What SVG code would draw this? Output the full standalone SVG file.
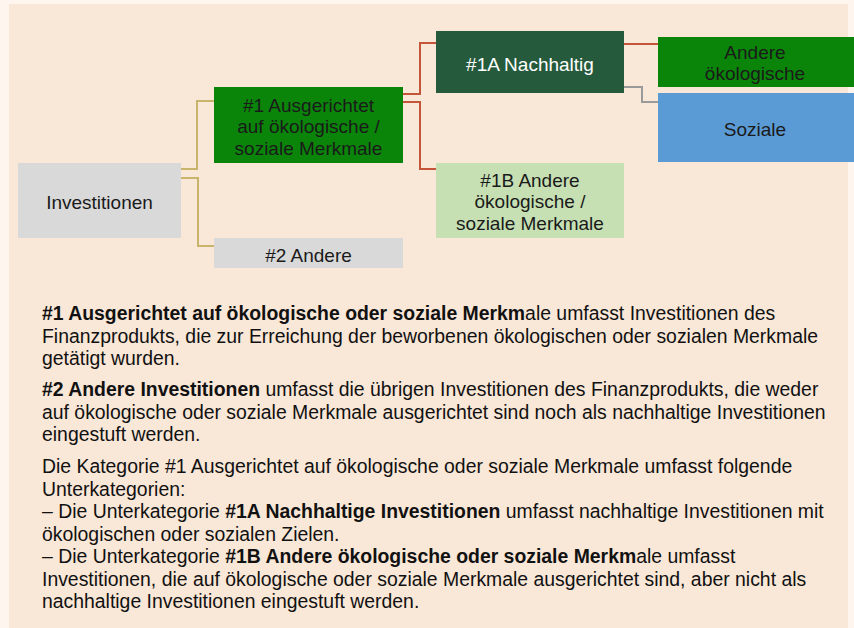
<svg xmlns="http://www.w3.org/2000/svg" width="854" height="628" viewBox="0 0 854 628">
<style>
text{font-family:"Liberation Sans",Arial,sans-serif;font-size:19px;fill:#1a1a1a}
.c{text-anchor:middle}
.w{fill:#ffffff}
.b{font-weight:bold}
.p{font-size:19.4px;fill:#111111}
.gold{fill:none;stroke:#c9b46c;stroke-width:2}
.red{fill:none;stroke:#c4553a;stroke-width:2}
.gray{fill:none;stroke:#9a9a9a;stroke-width:2}
</style>
<rect x="0" y="0" width="854" height="628" fill="#fdf5ee"/>
<rect x="9" y="4" width="839" height="624" fill="#f9e7d7"/>
<g id="connectors">
<path class="gold" d="M181 169 H197 V101 H214"/>
<path class="gold" d="M181 178 H198 V246 H214"/>
<path class="red" d="M403 94 H420 V43 H436"/>
<path class="red" d="M403 102 H420 V169 H436"/>
<path class="red" d="M624 44 H658"/>
<path class="gray" d="M624 87 H642 V102 H658"/>
</g>
<g id="investitionen">
<rect x="18" y="163" width="163" height="75" fill="#d9d9d9"/>
<text class="c" x="99.5" y="209">Investitionen</text>
</g>
<g id="n1">
<rect x="214" y="87" width="189" height="76" fill="#0a850a"/>
<text class="c" x="308.5" y="111.5">#1 Ausgerichtet</text>
<text class="c" x="308.5" y="133">auf ökologische /</text>
<text class="c" x="308.5" y="154.5">soziale Merkmale</text>
</g>
<g id="n2">
<rect x="214" y="238" width="189" height="30" fill="#d9d9d9"/>
<text class="c" x="308.5" y="261.5">#2 Andere</text>
</g>
<g id="n1a">
<rect x="436" y="31" width="188" height="62" fill="#255a3c"/>
<text class="c w" x="530" y="70.5">#1A Nachhaltig</text>
</g>
<g id="n1b">
<rect x="436" y="163" width="188" height="75" fill="#c6e0b4"/>
<text class="c" x="530" y="186.5">#1B Andere</text>
<text class="c" x="530" y="208">ökologische /</text>
<text class="c" x="530" y="229.5">soziale Merkmale</text>
</g>
<g id="andere-oeko">
<rect x="658" y="37" width="196" height="50" fill="#0a850a"/>
<text class="c" x="755" y="59">Andere</text>
<text class="c" x="755" y="80">ökologische</text>
</g>
<g id="soziale">
<rect x="658" y="93" width="196" height="69" fill="#5b9bd5"/>
<text class="c" x="755" y="136" fill="#1c2a3a">Soziale</text>
</g>
<g id="text">
<text class="p" x="42" y="320"><tspan class="b">#1 Ausgerichtet auf ökologische oder soziale Merkm</tspan>ale umfasst Investitionen des</text>
<text class="p" x="42" y="342.5">Finanzprodukts, die zur Erreichung der beworbenen ökologischen oder sozialen Merkmale</text>
<text class="p" x="42" y="365">getätigt wurden.</text>
<text class="p" x="42" y="396"><tspan class="b">#2 Andere Investitionen</tspan> umfasst die übrigen Investitionen des Finanzprodukts, die weder</text>
<text class="p" x="42" y="418.5">auf ökologische oder soziale Merkmale ausgerichtet sind noch als nachhaltige Investitionen</text>
<text class="p" x="42" y="441">eingestuft werden.</text>
<text class="p" x="42" y="473">Die Kategorie #1 Ausgerichtet auf ökologische oder soziale Merkmale umfasst folgende</text>
<text class="p" x="42" y="495.5">Unterkategorien:</text>
<text class="p" x="42" y="518">– Die Unterkategorie <tspan class="b">#1A Nachhaltige Investitionen</tspan> umfasst nachhaltige Investitionen mit</text>
<text class="p" x="42" y="540.5">ökologischen oder sozialen Zielen.</text>
<text class="p" x="42" y="563">– Die Unterkategorie <tspan class="b">#1B Andere ökologische oder soziale Merkm</tspan>ale umfasst</text>
<text class="p" x="42" y="585.5">Investitionen, die auf ökologische oder soziale Merkmale ausgerichtet sind, aber nicht als</text>
<text class="p" x="42" y="608">nachhaltige Investitionen eingestuft werden.</text>
</g>
</svg>
